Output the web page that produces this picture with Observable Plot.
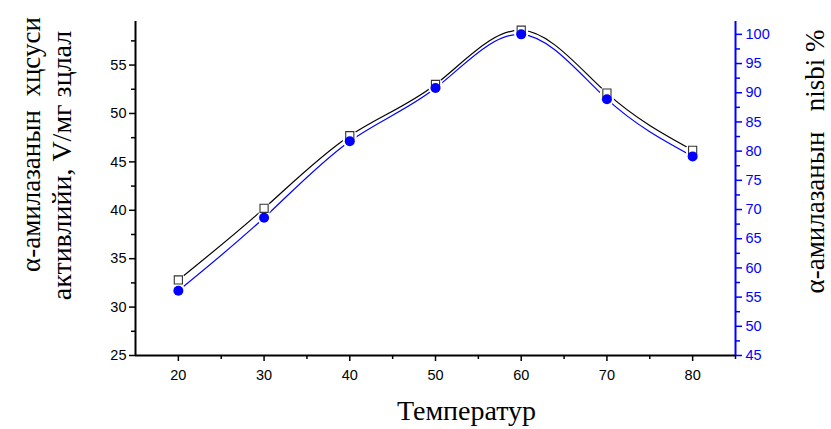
<!DOCTYPE html>
<html>
<head>
<meta charset="utf-8">
<script src="https://cdn.jsdelivr.net/npm/d3@7"></script>
<script src="https://cdn.jsdelivr.net/npm/@observablehq/plot@0.6"></script>
<style>
  html, body { margin: 0; padding: 0; background: #fff; }
  svg text { white-space: pre; }
</style>
</head>
<body>
<div id="chart"></div>
<script>
// Data
const temps = [20, 30, 40, 50, 60, 70, 80];
const activity = [32.8, 40.2, 47.7, 53.0, 58.6, 52.1, 46.2];   // left axis, V/мг
const relative = [56.1, 68.6, 81.7, 90.8, 100, 88.9, 79.1];     // right axis, %
const xTicks = [20, 30, 40, 50, 60, 70, 80];
const xMinor = [25, 35, 45, 55, 65, 75, 85];
const leftTicks = [25, 30, 35, 40, 45, 50, 55];
const leftMinor = [27.5, 32.5, 37.5, 42.5, 47.5, 52.5, 57.5];
const rightTicks = [45, 50, 55, 60, 65, 70, 75, 80, 85, 90, 95, 100];
const rightMinor = [47.5, 52.5, 57.5, 62.5, 67.5, 72.5, 77.5, 82.5, 87.5, 92.5, 97.5, 102.5];
const leftTitle1 = "α-амилазанын  хцсуси";
const leftTitle2 = "активлийи, V/мг зцлал";
const rightTitle = "α-амилазанын   nisbi %";
const xTitle = "Температур";

const xDomain = [15, 85];
const leftDomain = [25, 59.5];
const rightDomain = [45, 102.2];
const toLeft = d3.scaleLinear().domain(rightDomain).range(leftDomain);
const toRight = toLeft.invert;

const seriesA = temps.map((t, i) => ({t, v: activity[i]}));
const seriesB = temps.map((t, i) => ({t, v: toLeft(relative[i])}));

const tickFont = "Liberation Sans, Arial, sans-serif";
const serif = "Liberation Serif, Times New Roman, serif";

const chart = Plot.plot({
  width: 831,
  height: 429,
  marginLeft: 135,
  marginRight: 96,
  marginTop: 21,
  marginBottom: 74,
  style: {fontFamily: tickFont, fontSize: "14.5px", background: "#fff"},
  x: {domain: xDomain},
  y: {domain: leftDomain},
  marks: [
    // lines
    Plot.line(seriesA, {x: "t", y: "v", curve: "natural", stroke: "black", strokeWidth: 1.2}),
    Plot.line(seriesB, {x: "t", y: "v", curve: "natural", stroke: "#0000ff", strokeWidth: 1.2}),
    // gaps around markers
    Plot.dot(seriesA, {x: "t", y: "v", r: 7, fill: "white", stroke: null}),
    Plot.dot(seriesB, {x: "t", y: "v", r: 7, fill: "white", stroke: null}),
    // markers
    Plot.dot(seriesA, {x: "t", y: "v", symbol: "square", r: 4.6, fill: "white", stroke: "#333", strokeWidth: 1.1}),
    Plot.dot(seriesB, {x: "t", y: "v", r: 5, fill: "#0000ff", stroke: null}),
    // spines
    Plot.ruleX([xDomain[0]], {stroke: "black", strokeWidth: 2}),
    Plot.ruleY([leftDomain[0]], {stroke: "black", strokeWidth: 2}),
    Plot.ruleX([xDomain[1]], {stroke: "#0000ff", strokeWidth: 2}),
    // bottom axis
    Plot.axisX(xTicks, {tickSize: 6, tickPadding: 8, strokeWidth: 1.5, label: null, fontSize: 14.5}),
    Plot.axisX(xMinor, {tickSize: 4, strokeWidth: 1.5, tickFormat: () => "", label: null}),
    // left axis
    Plot.axisY(leftTicks, {anchor: "left", tickSize: 6, tickPadding: 3, strokeWidth: 1.5, label: null, fontSize: 14.5}),
    Plot.axisY(leftMinor, {anchor: "left", tickSize: 4, strokeWidth: 1.5, tickFormat: () => "", label: null}),
    // right axis (relative %)
    Plot.axisY(rightTicks.map(toLeft), {anchor: "right", tickSize: 6, tickPadding: 4, strokeWidth: 1.5,
      tickFormat: d => Math.round(toRight(d)), color: "#0000ff", label: null, fontSize: 14.5}),
    Plot.axisY(rightMinor.map(toLeft).filter(d => d <= leftDomain[1]), {anchor: "right", tickSize: 4, strokeWidth: 1.5,
      tickFormat: () => "", color: "#0000ff", label: null}),
    // titles
    Plot.text([leftTitle1], {frameAnchor: "left", textAnchor: "middle", dx: -104, dy: -44, rotate: -90, fontSize: 27, fontFamily: serif, fill: "black", text: d => d}),
    Plot.text([leftTitle2], {frameAnchor: "left", textAnchor: "middle", dx: -73, dy: -23, rotate: -90, fontSize: 28, fontFamily: serif, fill: "black", text: d => d}),
    Plot.text([rightTitle], {frameAnchor: "right", textAnchor: "middle", dx: 80, dy: -27, rotate: -90, fontSize: 27, fontFamily: serif, fill: "black", text: d => d}),
    Plot.text([xTitle], {frameAnchor: "bottom", textAnchor: "middle", dx: 31, dy: 64, fontSize: 28, fontFamily: serif, fill: "black", text: d => d})
  ]
});
document.getElementById("chart").appendChild(chart);
</script>
</body>
</html>
